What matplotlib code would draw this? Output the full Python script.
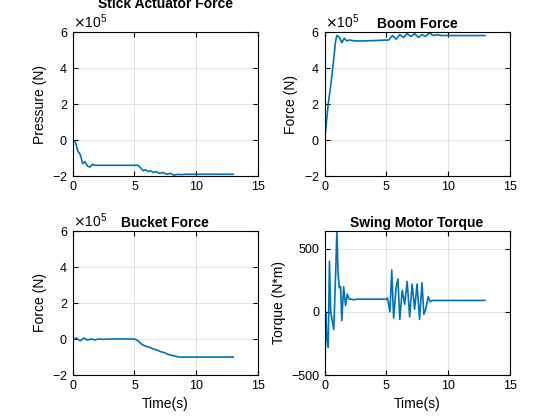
import matplotlib
matplotlib.use('Agg')
import matplotlib.pyplot as plt
from matplotlib.ticker import ScalarFormatter

plt.rcParams['font.family'] = ['Liberation Sans', 'DejaVu Sans']
plt.rcParams['font.size'] = 10

# Stick actuator force (N)
t_stick = [0, 0.2, 0.4, 0.6, 0.8, 1.0, 1.2, 1.4, 1.6, 1.8, 2.0, 2.5, 3, 4, 5, 5.3, 5.5, 5.7, 5.9, 6.1, 6.3, 6.5, 6.8, 7.0, 7.3, 7.6, 7.9, 8.2, 8.5, 8.8, 9.1, 9.5, 10, 11, 12, 13]
f_stick = [0, -0.1e5, -0.6e5, -0.8e5, -1.3e5, -1.2e5, -1.45e5, -1.5e5, -1.35e5, -1.4e5, -1.4e5, -1.4e5, -1.4e5, -1.4e5, -1.4e5, -1.4e5, -1.55e5, -1.7e5, -1.65e5, -1.75e5, -1.7e5, -1.8e5, -1.75e5, -1.85e5, -1.8e5, -1.9e5, -1.85e5, -1.95e5, -1.9e5, -1.92e5, -1.9e5, -1.9e5, -1.9e5, -1.9e5, -1.9e5, -1.9e5]

# Boom force (N)
t_boom = [0, 0.1, 0.3, 0.5, 0.7, 0.9, 1.0, 1.2, 1.4, 1.6, 1.8, 2.0, 2.5, 3, 4, 5, 5.2, 5.5, 5.8, 6.1, 6.4, 6.7, 7.0, 7.3, 7.6, 7.9, 8.2, 8.5, 8.8, 9.1, 9.5, 10, 11, 12, 13]
f_boom = [0, 0.6e5, 2.0e5, 3.0e5, 4.2e5, 5.5e5, 5.8e5, 5.7e5, 5.4e5, 5.65e5, 5.5e5, 5.55e5, 5.5e5, 5.5e5, 5.52e5, 5.55e5, 5.55e5, 5.8e5, 5.6e5, 5.85e5, 5.7e5, 5.9e5, 5.75e5, 5.9e5, 5.7e5, 5.85e5, 5.75e5, 5.95e5, 5.8e5, 5.85e5, 5.8e5, 5.8e5, 5.8e5, 5.8e5, 5.8e5]

# Bucket force (N)
t_bucket = [0, 0.3, 0.6, 0.9, 1.2, 1.5, 1.8, 2.1, 2.5, 3, 4, 5, 5.3, 5.6, 5.9, 6.2, 6.5, 6.8, 7.1, 7.4, 7.7, 8.0, 8.3, 8.6, 9.0, 9.5, 10, 11, 12, 13]
f_bucket = [0, 0.05e5, -0.1e5, 0.05e5, -0.05e5, 0.0, -0.05e5, 0.0, -0.02e5, 0.0, 0.0, 0.0, -0.1e5, -0.3e5, -0.4e5, -0.45e5, -0.55e5, -0.6e5, -0.7e5, -0.75e5, -0.85e5, -0.9e5, -0.95e5, -1.0e5, -1.0e5, -1.0e5, -1.0e5, -1.0e5, -1.0e5, -1.0e5]

# Swing motor torque (N*m)
t_swing = [0, 0.05, 0.1, 0.2, 0.3, 0.4, 0.5, 0.75, 0.9, 1.0, 1.1, 1.2, 1.3, 1.4, 1.55, 1.7, 1.85, 2.0, 2.2, 2.4, 2.6, 3, 4, 5, 5.1, 5.3, 5.45, 5.6, 5.8, 5.95, 6.1, 6.3, 6.5, 6.7, 6.9, 7.1, 7.3, 7.5, 7.7, 7.9, 8.05, 8.2, 8.4, 8.55, 8.75, 8.9, 9.05, 9.2, 9.35, 9.5, 10, 11, 12, 13]
f_swing = [0, -400, 0, -220, -280, 400, 0, -140, 300, 640, 300, 190, 200, -70, 200, 50, 140, 100, 100, 95, 100, 100, 100, 100, 110, 0, 330, -50, 190, 260, -60, 170, 60, 240, -40, 220, 20, 220, -60, 230, -20, 20, 120, 80, 90, 90, 90, 90, 90, 90, 90, 90, 90, 90]

color = '#0072BD'
fig, axes = plt.subplots(2, 2, figsize=(5.6, 4.2), dpi=100)
panels = [
    (axes[0, 0], t_stick, f_stick, 'Stick Actuator Force', 'Pressure (N)', (-2e5, 6e5)),
    (axes[0, 1], t_boom, f_boom, 'Boom Force', 'Force (N)', (-2e5, 6e5)),
    (axes[1, 0], t_bucket, f_bucket, 'Bucket Force', 'Force (N)', (-2e5, 6e5)),
    (axes[1, 1], t_swing, f_swing, 'Swing Motor Torque', 'Torque (N*m)', (-500, 640)),
]
for ax, t, f, title, ylab, ylim in panels:
    ax.plot(t, f, color=color, lw=1.2)
    ax.set_title(title, fontweight='bold', fontsize=10, pad=3)
    ax.set_ylabel(ylab)
    ax.set_xlim(0, 15)
    ax.set_ylim(*ylim)
    ax.set_xticks([0, 5, 10, 15])
    ax.grid(True, color='#dddddd', lw=0.6)
    ax.tick_params(direction='in', labelsize=9, top=True, right=True)
    if ylim[1] == 6e5:
        ax.set_yticks([-2e5, 0, 2e5, 4e5, 6e5])
        fmt = ScalarFormatter(useMathText=True)
        fmt.set_powerlimits((5, 5))
        ax.yaxis.set_major_formatter(fmt)
    else:
        ax.set_yticks([-500, 0, 500])
axes[1, 0].set_xlabel('Time(s)')
axes[1, 1].set_xlabel('Time(s)')
fig.subplots_adjust(left=0.13, right=0.91, top=0.924, bottom=0.107, wspace=0.36, hspace=0.38)
fig.savefig('out.png', dpi=100)
